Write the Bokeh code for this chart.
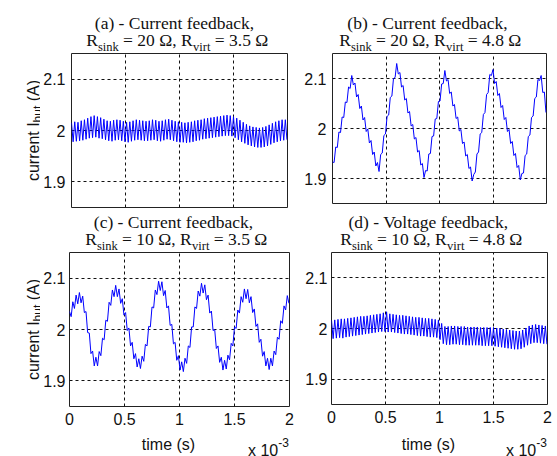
import math
import numpy as np
from bokeh.plotting import figure
from bokeh.models import Label, FixedTicker, CustomJSTickFormatter, Range1d
from bokeh.layouts import column, row
from bokeh.embed import file_html
from bokeh.resources import INLINE

# ---------------- data ----------------
time_step_ms = 0.015  # sampling step of the traces, in ms (x axis is in units of 1e-3 s)

current_a = [
    2.015, 1.978, 2.017, 1.979, 2.016, 1.980, 2.019, 1.981, 2.021, 1.983,
    2.024, 1.985, 2.027, 1.986, 2.029, 1.987, 2.027, 1.985, 2.025, 1.984,
    2.022, 1.982, 2.019, 1.980, 2.018, 1.979, 2.020, 1.981, 2.021, 1.982,
    2.020, 1.980, 2.018, 1.978, 2.016, 1.977, 2.017, 1.979, 2.019, 1.981,
    2.021, 1.982, 2.020, 1.981, 2.019, 1.980, 2.018, 1.980, 2.019, 1.981,
    2.021, 1.982, 2.020, 1.980, 2.018, 1.979, 2.019, 1.981, 2.021, 1.983,
    2.022, 1.982, 2.020, 1.980, 2.018, 1.978, 2.017, 1.977, 2.016, 1.977,
    2.015, 1.976, 2.016, 1.977, 2.017, 1.978, 2.019, 1.980, 2.020, 1.981,
    2.021, 1.983, 2.023, 1.984, 2.024, 1.985, 2.025, 1.986, 2.026, 1.987,
    2.027, 1.988, 2.028, 1.989, 2.029, 1.990, 2.030, 1.990, 2.029, 1.989,
    2.027, 1.986, 2.024, 1.982, 2.020, 1.978, 2.016, 1.975, 2.012, 1.972,
    2.009, 1.970, 2.007, 1.968, 2.006, 1.967, 2.005, 1.967, 2.006, 1.968,
    2.008, 1.970, 2.011, 1.973, 2.014, 1.976, 2.017, 1.978, 2.019, 1.980,
    2.021, 1.981, 2.021, 1.982,
]

current_b = [
    1.933, 1.932, 1.963, 1.962, 1.993, 1.992, 2.023, 2.022, 2.053, 2.052,
    2.083, 2.080, 2.106, 2.087, 2.091, 2.063, 2.068, 2.040, 2.045, 2.017,
    2.022, 1.994, 1.999, 1.971, 1.976, 1.948, 1.953, 1.925, 1.932, 1.914,
    1.948, 1.951, 1.986, 1.989, 2.024, 2.027, 2.062, 2.065, 2.100, 2.102,
    2.130, 2.109, 2.112, 2.083, 2.086, 2.057, 2.060, 2.031, 2.034, 2.005,
    2.008, 1.979, 1.982, 1.953, 1.956, 1.927, 1.930, 1.902, 1.916, 1.915,
    1.949, 1.950, 1.984, 1.985, 2.019, 2.020, 2.054, 2.055, 2.089, 2.090,
    2.116, 2.095, 2.098, 2.070, 2.073, 2.045, 2.048, 2.020, 2.023, 1.995,
    1.998, 1.970, 1.973, 1.945, 1.948, 1.920, 1.923, 1.895, 1.908, 1.913,
    1.949, 1.953, 1.989, 1.992, 2.028, 2.032, 2.068, 2.072, 2.108, 2.106,
    2.118, 2.090, 2.094, 2.066, 2.070, 2.042, 2.046, 2.018, 2.022, 1.994,
    1.998, 1.970, 1.974, 1.946, 1.950, 1.922, 1.926, 1.897, 1.910, 1.911,
    1.946, 1.949, 1.984, 1.987, 2.022, 2.025, 2.060, 2.063, 2.098, 2.096,
    2.106, 2.072, 2.073, 2.032,
]

current_c = [
    2.035, 2.025, 2.054, 2.041, 2.067, 2.050, 2.072, 2.052, 2.065, 2.033,
    2.035, 1.994, 1.993, 1.953, 1.958, 1.929, 1.946, 1.929, 1.957, 1.949,
    1.983, 1.980, 2.018, 2.016, 2.053, 2.047, 2.077, 2.064, 2.086, 2.064,
    2.079, 2.051, 2.060, 2.028, 2.033, 1.998, 2.003, 1.968, 1.975, 1.943,
    1.953, 1.927, 1.943, 1.924, 1.948, 1.938, 1.971, 1.968, 2.006, 2.005,
    2.044, 2.042, 2.077, 2.068, 2.094, 2.076, 2.093, 2.066, 2.076, 2.042,
    2.046, 2.008, 2.010, 1.972, 1.975, 1.940, 1.949, 1.921, 1.937, 1.918,
    1.944, 1.934, 1.968, 1.965, 2.005, 2.005, 2.044, 2.041, 2.075, 2.065,
    2.090, 2.071, 2.087, 2.058, 2.067, 2.032, 2.036, 1.998, 2.000, 1.963,
    1.968, 1.936, 1.946, 1.921, 1.940, 1.923, 1.950, 1.941, 1.973, 1.968,
    2.005, 2.002, 2.038, 2.032, 2.064, 2.053, 2.079, 2.060, 2.078, 2.052,
    2.064, 2.033, 2.040, 2.006, 2.011, 1.975, 1.981, 1.948, 1.957, 1.929,
    1.944, 1.922, 1.944, 1.929, 1.958, 1.951, 1.985, 1.981, 2.017, 2.012,
    2.046, 2.038, 2.066, 2.051,
]

current_d = [
    2.016, 1.980, 2.017, 1.981, 2.018, 1.982, 2.019, 1.981, 2.019, 1.983,
    2.020, 1.984, 2.021, 1.985, 2.022, 1.986, 2.023, 1.987, 2.024, 1.988,
    2.024, 1.989, 2.025, 1.990, 2.026, 1.991, 2.027, 1.992, 2.028, 1.993,
    2.029, 1.994, 2.031, 1.994, 2.033, 1.993, 2.029, 1.993, 2.028, 1.992,
    2.027, 1.991, 2.026, 1.990, 2.026, 1.989, 2.025, 1.989, 2.024, 1.988,
    2.023, 1.987, 2.022, 1.986, 2.022, 1.985, 2.021, 1.985, 2.020, 1.984,
    2.020, 1.983, 2.019, 1.983, 2.018, 1.982, 2.017, 1.978, 2.010, 1.970,
    2.004, 1.968, 2.004, 1.968, 2.005, 1.969, 2.005, 1.969, 2.004, 1.968,
    2.004, 1.968, 2.004, 1.967, 2.003, 1.967, 2.003, 1.967, 2.003, 1.967,
    2.003, 1.967, 2.002, 1.966, 2.002, 1.966, 2.002, 1.966, 2.002, 1.966,
    2.002, 1.965, 2.001, 1.964, 2.000, 1.963, 1.999, 1.962, 1.998, 1.961,
    1.997, 1.960, 1.996, 1.959, 1.995, 1.959, 1.995, 1.960, 1.997, 1.963,
    2.001, 1.967, 2.005, 1.970, 2.007, 1.972, 2.008, 1.972, 2.007, 1.971,
    2.006, 1.970, 2.005, 1.969,
]

time_ms = np.arange(len(current_a)) * time_step_ms

x_ticks = [0, 0.5, 1, 1.5, 2]
y_ticks = [1.9, 2.0, 2.1]

panel_titles = ["(a) - Current feedback,", "(b) - Current feedback,",
                "(c) - Current feedback,", "(d) - Voltage feedback,"]
r_sink = ["20", "20", "10", "10"]
r_virt = ["3.5", "4.8", "3.5", "4.8"]
y_label_main = "current I"
y_label_sub = "hut"
y_label_tail = " (A)"
x_label = "time (s)"
x_scale_base = "x 10"
x_scale_exp = "-3"

# ---------------- styling ----------------
SERIF = "Liberation Serif"
SANS = "Liberation Sans"
SERIF_W = {' ': 250, '=': 564, '.': 250, ',': 250, 'R': 667, '\u03a9': 768,
           's': 389, 'i': 278, 'n': 500, 'k': 500, 'v': 500, 'r': 333, 't': 278}
SANS_W = {'c': 500, 'u': 556, 'r': 333, 'e': 556, 'n': 556, 't': 278, ' ': 278,
          'I': 278, 'h': 556, '(': 333, 'A': 667, ')': 333, 'x': 500, '-': 333}
TXT = "#111111"


def tw(s, size, table):
    dflt = 500 if table is SERIF_W else 556
    return sum(table.get(ch, dflt) for ch in s) * size / 1000.0


def lab(p, x, y, text, font, size, align="left", angle=0.0):
    p.add_layout(Label(x=x, y=y, x_units="screen", y_units="screen", text=text,
                       text_font=font, text_font_size=f"{size}px", text_color=TXT,
                       text_align=align, text_baseline="alphabetic", angle=angle))


def run(p, pieces, start, base, vertical=False):
    pos = start
    for text, size, font, table, shift in pieces:
        lead = len(text) - len(text.lstrip(' '))
        dx = tw(' ' * lead, size, table)
        t = text.lstrip(' ')
        if vertical:
            lab(p, base + shift, pos + dx, t, font, size, angle=math.pi / 2)
        else:
            lab(p, pos + dx, base - shift, t, font, size)
        pos += tw(text, size, table)


def strip(fw, h, bl=0, br=0):
    f = figure(frame_width=fw, frame_height=h, x_axis_type=None, y_axis_type=None,
               x_range=Range1d(0, 1), y_range=Range1d(0, 1),
               min_border_left=bl, min_border_right=br, min_border_top=0, min_border_bottom=0,
               output_backend="svg", toolbar_location=None)
    f.outline_line_color = None
    f.background_fill_color = "white"
    f.border_fill_color = "white"
    return f


tick_fmt = CustomJSTickFormatter(code="return String(Math.round(tick*10)/10);")

# panel geometry (left border, frame width, right border, frame height, bottom border, y standoff)
geo = [
    dict(bl=30, fw=216, br=14, fh=154, bb=1, std=6),
    dict(bl=29, fw=214, br=14, fh=150, bb=5, std=6),
    dict(bl=27, fw=220, br=13, fh=154, bb=25, std=4),
    dict(bl=27, fw=216, br=14, fh=152, bb=27, std=4),
]
series = [current_a, current_b, current_c, current_d]

mains = []
for i, g in enumerate(geo):
    p = figure(frame_width=g["fw"], frame_height=g["fh"],
               min_border_left=g["bl"], min_border_right=g["br"],
               min_border_top=1, min_border_bottom=g["bb"],
               x_range=Range1d(0, 2), y_range=Range1d(1.85, 2.15),
               output_backend="svg", toolbar_location=None)
    p.line(time_ms, series[i], line_color="#0000FF", line_width=1)
    p.background_fill_color = "white"
    p.border_fill_color = "white"
    p.outline_line_color = "#222222"
    p.outline_line_width = 1
    p.outline_line_alpha = 1
    for ax in (p.xaxis[0], p.yaxis[0]):
        ax.axis_line_color = None
        ax.major_tick_line_color = None
        ax.minor_tick_line_color = None
        ax.major_tick_out = 0
        ax.major_tick_in = 0
        ax.minor_tick_out = 0
        ax.minor_tick_in = 0
        ax.major_label_text_font = SANS
        ax.major_label_text_font_size = "16px"
        ax.major_label_text_color = TXT
        ax.formatter = tick_fmt
    p.xaxis.ticker = FixedTicker(ticks=x_ticks)
    p.yaxis.ticker = FixedTicker(ticks=y_ticks)
    p.yaxis.major_label_standoff = g["std"]
    p.xaxis.major_label_standoff = 6
    if i < 2:
        p.xaxis.visible = False
    p.xgrid.ticker = FixedTicker(ticks=x_ticks)
    p.ygrid.ticker = FixedTicker(ticks=y_ticks)
    for gr in (p.xgrid[0], p.ygrid[0]):
        gr.grid_line_color = "#111111"
        gr.grid_line_dash = "3 3"
        gr.grid_line_width = 1
        gr.grid_line_alpha = 1
    mains.append(p)

# title strips share the frame geometry of their panel (so the layout does not shift them)
strip_h = [52, 52, 43, 43]
title_cx = [106, 98, 107, 100]   # title centre, relative to the panel frame's left edge
titles = []
for i, g in enumerate(geo):
    s = strip(g["fw"], strip_h[i], g["bl"], g["br"])
    cx = title_cx[i]
    lab(s, cx - 3, 30, panel_titles[i], SERIF, 17.5, align="center")
    pieces = [("R", 17.5, SERIF, SERIF_W, 0),
              ("sink", 12.5, SERIF, SERIF_W, 6.5),
              (" = " + r_sink[i] + " \u03a9, R", 17.5, SERIF, SERIF_W, 0),
              ("virt", 12.5, SERIF, SERIF_W, 6.5),
              (" = " + r_virt[i] + " \u03a9", 17.5, SERIF, SERIF_W, 0)]
    total = sum(tw(t, sz, tb) for t, sz, f, tb, sh in pieces)
    run(s, pieces, cx - total / 2, 12.5)
    titles.append(s)

# y-label strips
ylab_top = strip(40, 208)
ylab_bot = strip(40, 248)
for s, cy in ((ylab_top, 78), (ylab_bot, 127)):
    vp = [(y_label_main, 16, SANS, SANS_W, 0),
          (y_label_sub, 12, SANS, SANS_W, 4.5),
          (y_label_tail, 16, SANS, SANS_W, 0)]
    L = sum(tw(t, sz, tb) for t, sz, f, tb, sh in vp)
    run(s, vp, cy - L / 2, 33, vertical=True)

# x-label strips under the bottom panels
xlabs = []
for j in (2, 3):
    g = geo[j]
    s = strip(g["fw"], 25, g["bl"], g["br"])
    lab(s, g["fw"] / 2 - 11, 12, x_label, SANS, 16, align="center")
    xs = g["fw"] - 41.5
    lab(s, xs, 6, x_scale_base, SANS, 16)
    lab(s, xs + tw(x_scale_base, 16, SANS_W), 14, x_scale_exp, SANS, 12)
    xlabs.append(s)

top_row = row(ylab_top, column(titles[0], mains[0]), column(titles[1], mains[1]))
bot_row = row(ylab_bot, column(titles[2], mains[2], xlabs[0]),
              column(titles[3], mains[3], xlabs[1]))
layout = column(top_row, bot_row)
open("out.html", "w").write(file_html(layout, INLINE))
